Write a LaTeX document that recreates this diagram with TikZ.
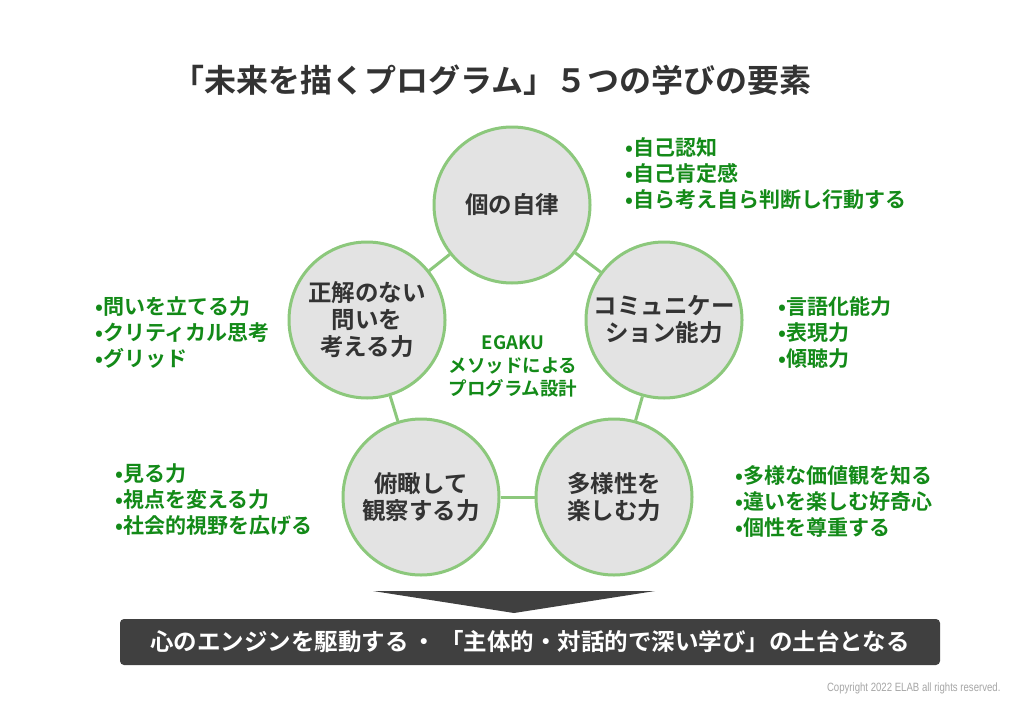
\documentclass[tikz,border=0pt]{standalone}
\usepackage{fontspec}
\setmainfont{Noto Sans CJK JP}
\newfontfamily\jpb{Noto Sans CJK JP Bold}
\newfontfamily\cpr{Liberation Sans}[FakeStretch=0.8]
\definecolor{ringgreen}{HTML}{8CC87C}
\definecolor{circfill}{HTML}{E3E3E3}
\definecolor{txtgreen}{HTML}{138A18}
\definecolor{titlegray}{HTML}{333333}
\definecolor{bargray}{HTML}{404040}
\begin{document}
\begin{tikzpicture}[x=1pt,y=-1pt,
  elem/.style={circle,draw=ringgreen,line width=3pt,fill=circfill,minimum size=156pt,inner sep=0pt,
    align=center,font=\jpb\fontsize{23.5}{27}\selectfont,text=titlegray},
  link/.style={draw=ringgreen,line width=3pt},
  bul/.style={anchor=west,align=left,inner sep=0pt,text=txtgreen,font=\jpb\fontsize{21}{26}\selectfont}
  ]
\useasboundingbox (0,0) rectangle (1024,709);
\fill[white] (0,0) rectangle (1024,709);
\node[text=titlegray,font=\jpb\fontsize{32}{34}\selectfont] (title) at (492,80) {「未来を描くプログラム」５つの学びの要素};

\node[elem] (top) at (512,205) {個の自律};
\node[elem] (right) at (664,320) {コミュニケー\\ション能力};
\node[elem] (left) at (367,320) {正解のない\\問いを\\考える力};
\node[elem] (bl) at (421,497) {俯瞰して\\観察する力};
\node[elem] (br) at (614,497) {多様性を\\楽しむ力};

\draw[link] (top) -- (right);
\draw[link] (right) -- (br);
\draw[link] (br) -- (bl);
\draw[link] (bl) -- (left);
\draw[link] (left) -- (top);

\node[align=center,text=txtgreen,font=\jpb\fontsize{18.5}{23}\selectfont] (center) at (513,366) {EGAKU\\メソッドによる\\プログラム設計};

\node[bul] (b1) at (625,174) {•自己認知\\•自己肯定感\\•自ら考え自ら判断し行動する};
\node[bul] (b2) at (778,333) {•言語化能力\\•表現力\\•傾聴力};
\node[bul] (b3) at (735,501) {•多様な価値観を知る\\•違いを楽しむ好奇心\\•個性を尊重する};
\node[bul] (b4) at (95,333) {•問いを立てる力\\•クリティカル思考\\•グリッド};
\node[bul] (b5) at (115,500) {•見る力\\•視点を変える力\\•社会的視野を広げる};

\coordinate (arrL) at (373,591);
\coordinate (arrR) at (655,591);
\coordinate (arrT) at (514,613);
\fill[bargray] (arrL) -- (arrR) -- (arrT) -- cycle;

\node[fill=bargray,rounded corners=4pt,minimum width=820pt,minimum height=46pt,inner sep=0pt,
  text=white,font=\jpb\fontsize{23.5}{26}\selectfont] (bar) at (530,642)
  {心のエンジンを駆動する\,・\,「主体的・対話的で深い学び」の土台となる};

\node[anchor=east,text=gray!70,font=\cpr\fontsize{12}{13}\selectfont] (copy) at (1004,688) {Copyright 2022 ELAB all rights reserved.};
\end{tikzpicture}
\end{document}
